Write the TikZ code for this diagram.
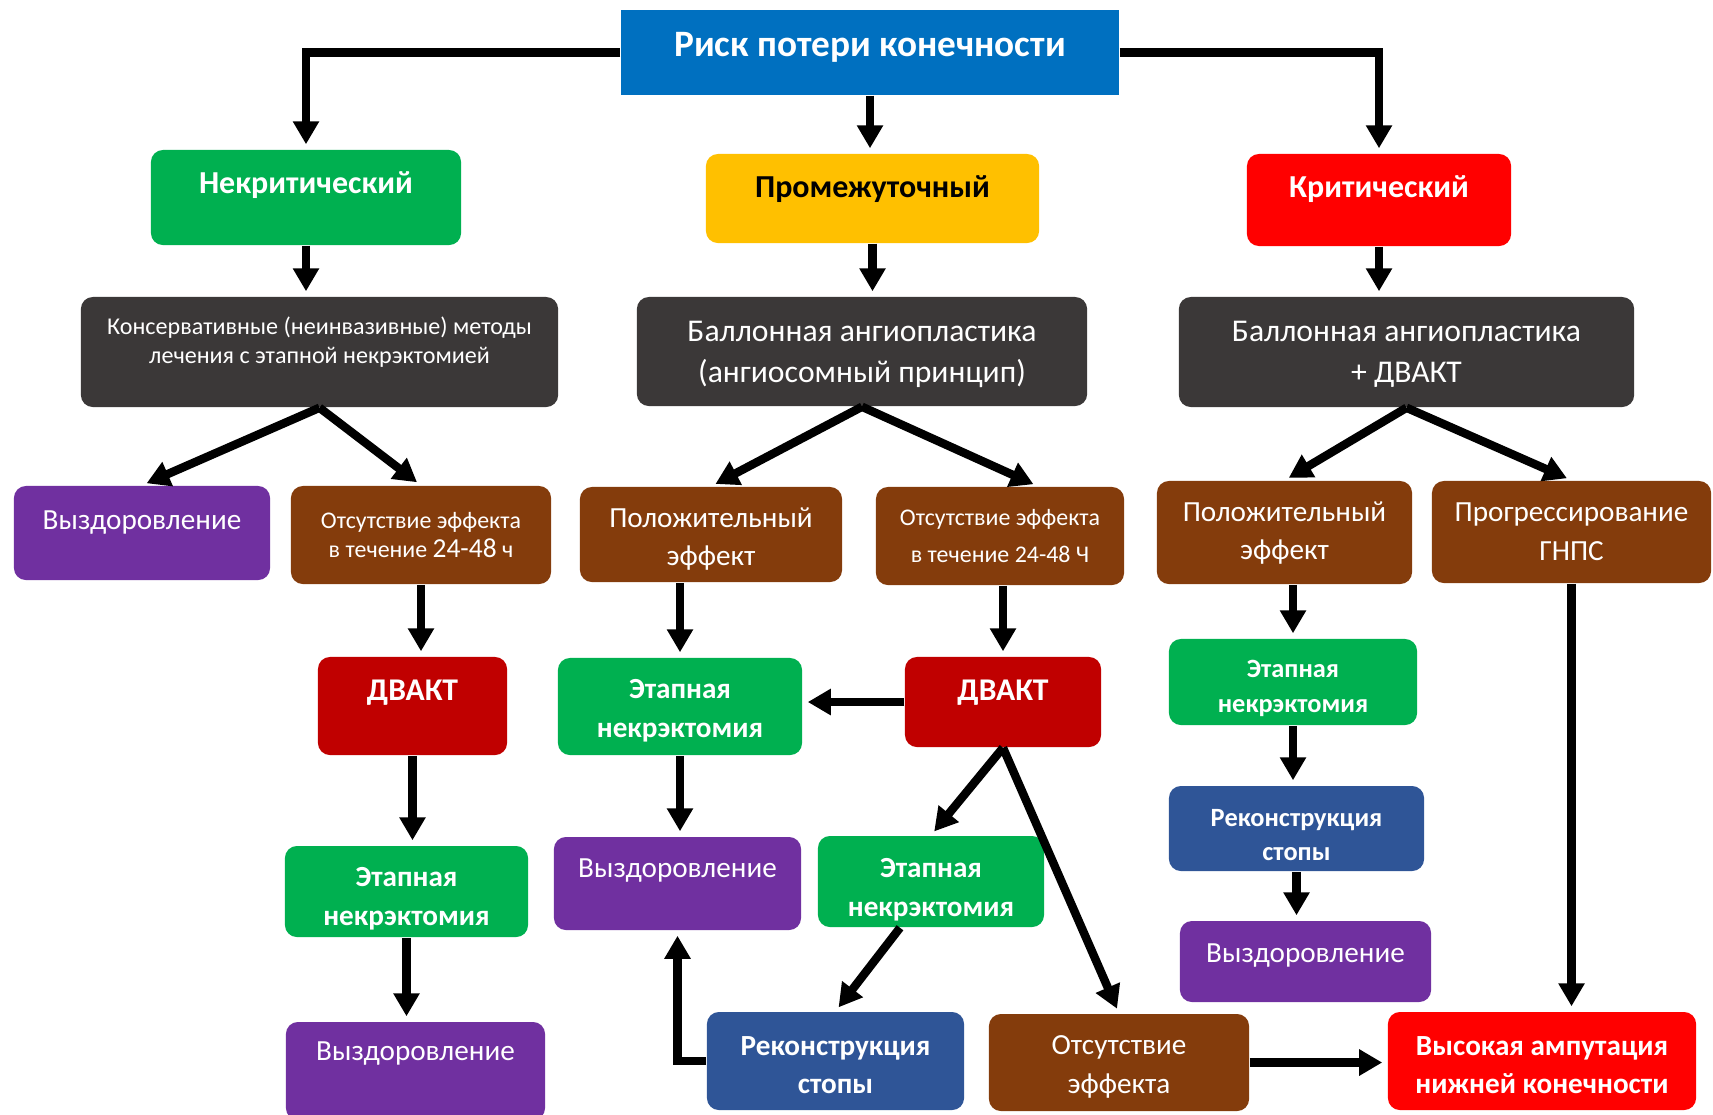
\documentclass[tikz,border=0pt]{standalone}
\usepackage{fontspec}
\setmainfont{Carlito}
\usetikzlibrary{arrows.meta}

\definecolor{riskblue}{RGB}{0,112,192}
\definecolor{okgreen}{RGB}{0,176,80}
\definecolor{midyellow}{RGB}{255,192,0}
\definecolor{critred}{RGB}{255,0,0}
\definecolor{darkgrey}{RGB}{59,56,56}
\definecolor{recpurple}{RGB}{112,48,160}
\definecolor{effbrown}{RGB}{132,60,12}
\definecolor{dvred}{RGB}{192,0,0}
\definecolor{footblue}{RGB}{47,85,151}

\tikzset{
  box/.style = {rounded corners=0.12cm, inner sep=0pt},
  lbl/.style = {text=white, align=center, inner sep=0pt},
  level/.style = {font=\bfseries\fontsize{9.1}{11}\selectfont},
  head/.style = {font=\bfseries\fontsize{8.3}{11}\selectfont},
  norm/.style = {font=\fontsize{8.3}{11}\selectfont},
  small/.style = {font=\fontsize{6.8}{8.5}\selectfont},
  arr/.style = {line width=2.4pt, -{Triangle[length=0.23cm, width=0.25cm]}, shorten >=0.05cm}
}

\begin{document}
\begin{tikzpicture}[x=0.01cm, y=-0.01cm]
\useasboundingbox (0,0) rectangle (1713,1114);
% boxes
\node[fill=riskblue, minimum width=4.98cm, minimum height=0.85cm, inner sep=0pt] (risk) at (870,52.5) {};
\node[box, fill=okgreen, minimum width=3.1cm, minimum height=0.95cm] (nekr) at (306,197.5) {};
\node[box, fill=midyellow, minimum width=3.33cm, minimum height=0.89cm] (prom) at (872.5,198.5) {};
\node[box, fill=critred, minimum width=2.64cm, minimum height=0.92cm] (krit) at (1379,200) {};
\node[box, fill=darkgrey, minimum width=4.77cm, minimum height=1.1cm] (kons) at (319.5,352) {};
\node[box, fill=darkgrey, minimum width=4.5cm, minimum height=1.09cm] (ball1) at (862,351.5) {};
\node[box, fill=darkgrey, minimum width=4.55cm, minimum height=1.1cm] (ball2) at (1406.5,352) {};
\node[box, fill=recpurple, minimum width=2.56cm, minimum height=0.94cm] (vyz1) at (142,533) {};
\node[box, fill=effbrown, minimum width=2.6cm, minimum height=0.98cm] (ots1) at (421,535) {};
\node[box, fill=effbrown, minimum width=2.62cm, minimum height=0.95cm] (pol1) at (711,534.5) {};
\node[box, fill=effbrown, minimum width=2.48cm, minimum height=0.98cm] (ots2) at (1000,536) {};
\node[box, fill=effbrown, minimum width=2.55cm, minimum height=1.03cm] (pol2) at (1284.5,532.5) {};
\node[box, fill=effbrown, minimum width=2.79cm, minimum height=1.02cm] (prog) at (1571.5,532) {};
\node[box, fill=dvred, minimum width=1.89cm, minimum height=0.98cm] (dvakt1) at (412.5,706) {};
\node[box, fill=okgreen, minimum width=2.44cm, minimum height=0.97cm] (etap1) at (680,706.5) {};
\node[box, fill=dvred, minimum width=1.96cm, minimum height=0.9cm] (dvakt2) at (1003,702) {};
\node[box, fill=okgreen, minimum width=2.48cm, minimum height=0.86cm] (etap3) at (1293,682) {};
\node[box, fill=okgreen, minimum width=2.43cm, minimum height=0.91cm] (etap2) at (406.5,891.5) {};
\node[box, fill=recpurple, minimum width=2.47cm, minimum height=0.93cm] (vyz2) at (677.5,883.5) {};
\node[box, fill=okgreen, minimum width=2.26cm, minimum height=0.91cm] (etap4) at (931,881.5) {};
\node[box, fill=footblue, minimum width=2.55cm, minimum height=0.85cm] (rek1) at (1296.5,828.5) {};
\node[box, fill=recpurple, minimum width=2.51cm, minimum height=0.81cm] (vyz3) at (1305.5,961.5) {};
\node[box, fill=recpurple, minimum width=2.59cm, minimum height=0.98cm] (vyz4) at (415.5,1071) {};
\node[box, fill=footblue, minimum width=2.57cm, minimum height=0.98cm] (rek2) at (835.5,1061) {};
\node[box, fill=effbrown, minimum width=2.6cm, minimum height=0.97cm] (ots3) at (1119,1062.5) {};
\node[box, fill=critred, minimum width=3.08cm, minimum height=0.98cm] (amp) at (1542,1061) {};
% texts
\node[lbl, font=\bfseries\fontsize{10.6}{12}\selectfont] (risk-t) at (870,47) {Риск потери конечности};
\node[lbl, level] (nekr-t) at (306,185) {Некритический};
\node[lbl, level, text=black] (prom-t) at (872.5,189) {Промежуточный};
\node[lbl, level] (krit-t) at (1379,189) {Критический};
\node[lbl, font=\fontsize{6.85}{8.3}\selectfont] (kons-t) at (319.5,342) {Консервативные (неинвазивные) методы\\лечения с этапной некрэктомией};
\node[lbl, font=\fontsize{9}{11.7}\selectfont] (ball1-t) at (862,354) {Баллонная ангиопластика\\(ангиосомный принцип)};
\node[lbl, font=\fontsize{9}{11.7}\selectfont] (ball2-t) at (1406.5,354) {Баллонная ангиопластика\\+ ДВАКТ};
\node[lbl, norm] (vyz1-t) at (142,523) {Выздоровление};
\node[lbl, small] (ots1-t) at (421,535) {Отсутствие эффекта\\в течение {\fontsize{7.8}{8.5}\selectfont 24-48} ч};
\node[lbl, norm] (pol1-t) at (711,539) {Положительный\\эффект};
\node[lbl, small, font=\fontsize{6.8}{10.5}\selectfont] (ots2-t) at (1000,536) {Отсутствие эффекта\\в течение 24-48 Ч};
\node[lbl, norm] (pol2-t) at (1284.5,533) {Положительный\\эффект};
\node[lbl, norm] (prog-t) at (1571.5,532) {Прогрессирование\\ГНПС};
\node[lbl, font=\bfseries\fontsize{9}{11}\selectfont] (dvakt1-t) at (412.5,693) {ДВАКТ};
\node[lbl, head] (etap1-t) at (680,711) {Этапная\\некрэктомия};
\node[lbl, font=\bfseries\fontsize{9}{11}\selectfont] (dvakt2-t) at (1003,693) {ДВАКТ};
\node[lbl, font=\bfseries\fontsize{7.5}{10}\selectfont] (etap3-t) at (1293,688) {Этапная\\некрэктомия};
\node[lbl, head] (etap2-t) at (406.5,899) {Этапная\\некрэктомия};
\node[lbl, norm] (vyz2-t) at (677.5,871) {Выздоровление};
\node[lbl, head] (etap4-t) at (931,890) {Этапная\\некрэктомия};
\node[lbl, font=\bfseries\fontsize{7.5}{9.4}\selectfont] (rek1-t) at (1296.5,835) {Реконструкция\\стопы};
\node[lbl, norm] (vyz3-t) at (1305.5,955) {Выздоровление};
\node[lbl, norm] (vyz4-t) at (415.5,1053) {Выздоровление};
\node[lbl, head] (rek2-t) at (835.5,1065) {Реконструкция\\стопы};
\node[lbl, norm] (ots3-t) at (1119,1067) {Отсутствие\\эффекта};
\node[lbl, head] (amp-t) at (1542,1065) {Высокая ампутация\\нижней конечности};
% connectors
\draw[arr] (risk.west) -| (nekr.north);
\draw[arr] (risk.south) -- (risk.south |- prom.north);
\draw[arr] (risk.east) -| (krit.north);
\draw[arr] (nekr.south) -- (nekr.south |- kons.north);
\draw[arr] (prom.south) -- (prom.south |- ball1.north);
\draw[arr] (krit.south) -- (krit.south |- ball2.north);
\draw[arr] (kons.south) -- (vyz1.north);
\draw[arr] (kons.south) -- (ots1.north);
\draw[arr] (ball1.south) -- (pol1.north);
\draw[arr] (ball1.south) -- ([xshift=0.38cm]ots2.north);
\draw[arr] (ball2.south) -- (pol2.north);
\draw[arr] (ball2.south) -- (prog.north);
\draw[arr] (ots1.south) -- (ots1.south |- dvakt1.north);
\draw[arr] (pol1.south -| etap1.north) -- (etap1.north);
\draw[arr] (ots2.south -| dvakt2.north) -- (dvakt2.north);
\draw[arr] (pol2.south -| etap3.north) -- (etap3.north);
\draw[arr] (dvakt2.west) -- (dvakt2.west -| etap1.east);
\draw[arr] (dvakt1.south) -- (dvakt1.south |- etap2.north);
\draw[arr] (etap1.south) -- (etap1.south |- vyz2.north);
\draw[arr] (dvakt2.south) -- (etap4.north);
\draw[arr] (dvakt2.south) -- (ots3.north);
\draw[arr] (etap3.south) -- (etap3.south |- rek1.north);
\draw[arr] (rek1.south) -- (rek1.south |- vyz3.north);
\draw[arr] (etap2.south) -- (etap2.south |- vyz4.north);
\draw[arr] ([xshift=-0.31cm]etap4.south) -- (rek2.north);
\draw[arr] (rek2.west) -| (vyz2.south);
\draw[arr] (ots3.east) -- (ots3.east -| amp.west);
\draw[arr] (prog.south) -- (prog.south |- amp.north);
\end{tikzpicture}
\end{document}
